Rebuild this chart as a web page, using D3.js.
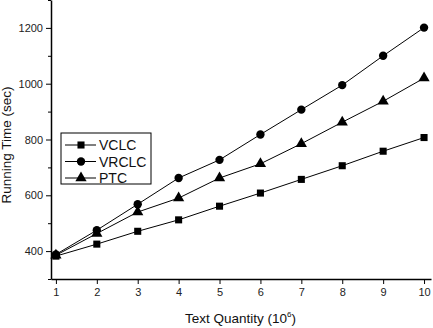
<!DOCTYPE html>
<html>
<head>
<script src="https://d3js.org/d3.v7.min.js"></script>
<style>
  body { margin: 0; background: #fff; }
  svg { display: block; font-family: "Liberation Sans", Arial, sans-serif; }
</style>
</head>
<body>
<svg id="chart" width="433" height="328"></svg>
<script>
// data
const xValues = [1, 2, 3, 4, 5, 6, 7, 8, 9, 10];
const vclc  = [382, 425, 471, 512, 561, 608, 657, 706, 758, 807];
const vrclc = [388, 475, 568, 662, 727, 818, 907, 995, 1100, 1201];
const ptc   = [385, 463, 540, 590, 662, 713, 785, 862, 937, 1020];
const seriesNames = ["VCLC", "VRCLC", "PTC"];
const yTicks = [400, 600, 800, 1000, 1200];

const svg = d3.select("#chart");

const x = d3.scaleLinear().domain([0.88, 10.17]).range([51, 431]);
const y = d3.scaleLinear().domain([300, 1300]).range([279, 0]);

// axes
svg.append("g")
  .attr("transform", "translate(0,279)")
  .call(d3.axisBottom(x).tickValues(xValues).tickSize(5).tickPadding(4).tickSizeOuter(0));

svg.append("g")
  .attr("transform", "translate(51,0)")
  .call(d3.axisLeft(y).tickValues(yTicks).tickFormat(d3.format("d")).tickSize(5).tickPadding(3).tickSizeOuter(0));

// minor ticks on y
svg.append("g")
  .attr("transform", "translate(51,0)")
  .call(d3.axisLeft(y).tickValues(d3.range(300, 1301, 100).filter(v => !yTicks.includes(v))).tickSize(3).tickFormat(""))
  .call(g => g.select(".domain").remove());

svg.selectAll(".domain").attr("stroke", "#000").attr("stroke-width", 1.5);
svg.selectAll(".tick line").attr("stroke", "#000").attr("stroke-width", 1);
svg.selectAll(".tick text").attr("font-size", 11).attr("fill", "#222")
  .attr("font-family", "Liberation Sans, Arial, sans-serif");

// axis titles
svg.append("text")
  .attr("transform", "translate(11,145) rotate(-90)")
  .attr("text-anchor", "middle")
  .attr("font-size", 13.5)
  .attr("fill", "#111")
  .text("Running Time (sec)");

const xt = svg.append("text")
  .attr("x", 185)
  .attr("y", 323)
  .attr("font-size", 13.5)
  .attr("fill", "#111");
xt.append("tspan").text("Text Quantity (10");
xt.append("tspan").attr("font-size", 8).attr("dy", -6).text("6");
xt.append("tspan").attr("dy", 6).text(")");

// lines and markers
const series = [vclc, vrclc, ptc];
const symbols = [d3.symbolSquare, d3.symbolCircle, d3.symbolTriangle];
const symSizes = [50, 55, 55];

const line = d3.line().x((d, i) => x(xValues[i])).y(d => y(d));

series.forEach((vals, k) => {
  svg.append("path")
    .attr("d", line(vals))
    .attr("fill", "none")
    .attr("stroke", "#000")
    .attr("stroke-width", 1);
  svg.selectAll(null)
    .data(vals)
    .enter()
    .append("path")
    .attr("d", d3.symbol().type(symbols[k]).size(symSizes[k]))
    .attr("transform", (d, i) => `translate(${x(xValues[i])},${y(d)})`)
    .attr("fill", "#000");
});

// legend
const legend = svg.append("g");
legend.append("rect")
  .attr("x", 61).attr("y", 133)
  .attr("width", 90).attr("height", 51)
  .attr("fill", "#fff").attr("stroke", "#000").attr("stroke-width", 1);

seriesNames.forEach((name, k) => {
  const ly = 145 + k * 16.5;
  legend.append("line")
    .attr("x1", 65).attr("x2", 96)
    .attr("y1", ly).attr("y2", ly)
    .attr("stroke", "#000").attr("stroke-width", 1);
  legend.append("path")
    .attr("d", d3.symbol().type(symbols[k]).size(symSizes[k]))
    .attr("transform", `translate(81,${ly})`)
    .attr("fill", "#000");
  legend.append("text")
    .attr("x", 99).attr("y", ly + 5)
    .attr("font-size", 14)
    .attr("fill", "#111")
    .text(name);
});
</script>
</body>
</html>
